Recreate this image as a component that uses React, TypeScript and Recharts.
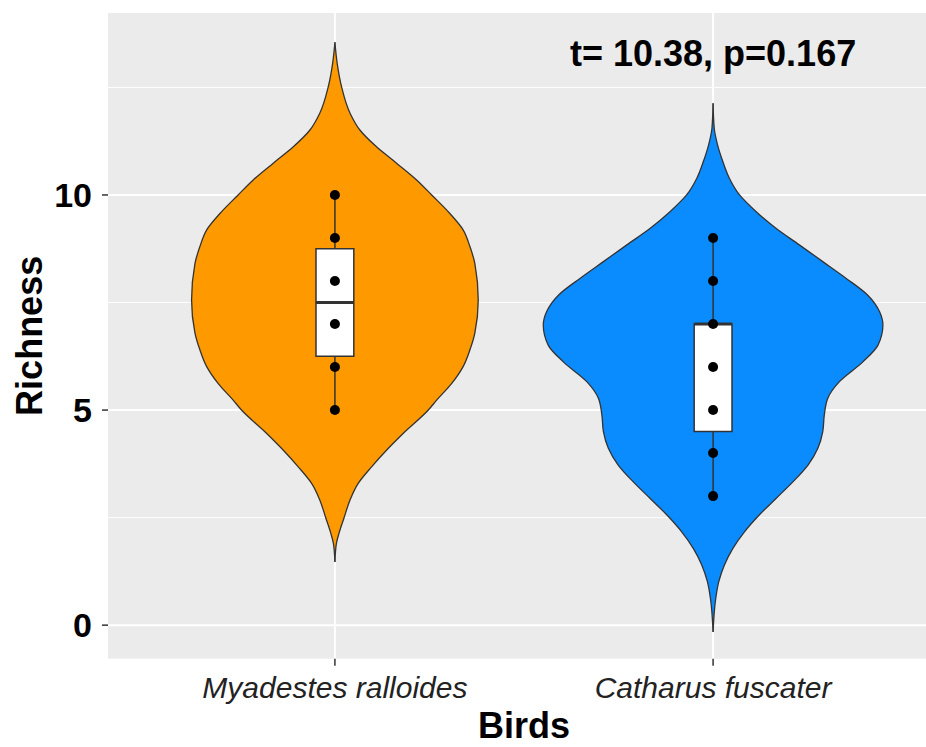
import {
  ComposedChart,
  Area,
  Scatter,
  XAxis,
  YAxis,
  CartesianGrid,
  ReferenceArea,
  ReferenceLine,
  ReferenceDot,
  Label,
} from "recharts";

const FONT = '"Liberation Sans", Arial, sans-serif';

const birds = ["Myadestes ralloides", "Catharus fuscater"];
const birdColors = ["#FF9900", "#0A8CFF"];

// violin outline: [richness, half width in category units]
const myadestesViolin = [
  [1.47, 0], [1.9, 0.004], [2.14, 0.011], [2.49, 0.024], [2.91, 0.04],
  [3.3, 0.062], [3.68, 0.097], [4.07, 0.137], [4.46, 0.181], [5.0, 0.247],
  [5.23, 0.269], [5.62, 0.309], [6.01, 0.339], [6.4, 0.357], [6.79, 0.37],
  [7.56, 0.379], [8.41, 0.37], [8.8, 0.357], [9.19, 0.339], [9.57, 0.304],
  [10.0, 0.256], [10.35, 0.216], [10.74, 0.163], [11.12, 0.11], [11.51, 0.066],
  [11.9, 0.04], [12.5, 0.018], [13.06, 0.006], [13.55, 0],
];

const catharusViolin = [
  [-0.16, 0], [0.62, 0.007], [1.01, 0.015], [1.4, 0.03], [1.78, 0.052],
  [2.17, 0.083], [2.56, 0.122], [2.95, 0.167], [3.33, 0.211], [3.72, 0.251],
  [4.11, 0.277], [4.5, 0.29], [4.88, 0.294], [5.27, 0.303], [5.66, 0.334],
  [6.12, 0.396], [6.51, 0.436], [6.98, 0.449], [7.29, 0.44], [7.67, 0.409],
  [8.06, 0.352], [8.45, 0.29], [8.84, 0.228], [9.22, 0.167], [9.61, 0.114],
  [10.0, 0.07], [10.39, 0.043], [10.77, 0.026], [11.16, 0.012], [11.55, 0.003],
  [12.13, 0],
];

const myadestesPoints = [5, 6, 7, 8, 9, 10];
const catharusPoints = [3, 4, 5, 6, 7, 8, 9];

// min, q1, median, q3, max
const myadestesBox = [5, 6.25, 7.5, 8.75, 10];
const catharusBox = [3, 4.5, 7, 7, 9];

const yTicks = [0, 5, 10];
const minorY = [2.5, 7.5, 12.5];
const xTicks = [1, 2];
const annotation = "t= 10.38, p=0.167";

const violins = [myadestesViolin, catharusViolin];
const points = [myadestesPoints, catharusPoints];
const boxes = [myadestesBox, catharusBox];

const violinData = violins.map((rows, i) =>
  rows.map(([y, w]) => ({ y, band: [i + 1 - w, i + 1 + w] }))
);
const pointData = points.map((vals, i) => vals.map((y) => ({ x: i + 1, y })));

const BOX_HALF = 0.05;

function YTick({ x, y, payload }: any) {
  return (
    <text x={x} y={y + 12} textAnchor="end" fontFamily={FONT} fontSize={34} fontWeight="bold" fill="#000">
      {payload.value}
    </text>
  );
}

function XTick({ x, y, payload }: any) {
  return (
    <text x={x} y={y + 32} textAnchor="middle" fontFamily={FONT} fontSize={30} fontStyle="italic" fill="#222">
      {birds[payload.value - 1]}
    </text>
  );
}

export default function App() {
  return (
    <div style={{ position: "absolute", left: 0, top: 0, width: 926, height: 747, overflow: "hidden", background: "#fff" }}>
      <ComposedChart
        width={940}
        height={747}
        layout="vertical"
        margin={{ top: 13, right: 0, bottom: 0, left: 0 }}
      >
        <CartesianGrid
          fill="#EBEBEB"
          stroke="#fff"
          strokeWidth={1}
          horizontalValues={minorY}
          vertical={false}
        />
        <CartesianGrid
          stroke="#fff"
          strokeWidth={2}
          horizontalValues={yTicks}
          verticalValues={xTicks}
        />
        <XAxis
          type="number"
          dataKey="x"
          domain={[0.4, 2.6]}
          allowDataOverflow
          ticks={xTicks}
          height={88.3}
          axisLine={false}
          tickSize={7}
          tickMargin={0}
          tickLine={{ stroke: "#333", strokeWidth: 1.5 }}
          tick={<XTick />}
        >
          <Label
            content={({ viewBox }: any) => (
              <text
                x={viewBox.x + viewBox.width / 2}
                y={738}
                textAnchor="middle"
                fontFamily={FONT}
                fontSize={36}
                fontWeight="bold"
                fill="#000"
              >
                Birds
              </text>
            )}
          />
        </XAxis>
        <YAxis
          type="number"
          dataKey="y"
          domain={[-0.78, 14.23]}
          allowDataOverflow
          reversed
          ticks={yTicks}
          width={108}
          axisLine={false}
          tickSize={6}
          tickMargin={10}
          tickLine={{ stroke: "#333", strokeWidth: 1.5 }}
          tick={<YTick />}
        >
          <Label
            content={({ viewBox }: any) => {
              const cy = viewBox.y + viewBox.height / 2;
              return (
                <text
                  x={42}
                  y={cy}
                  transform={`rotate(-90 42 ${cy})`}
                  textAnchor="middle"
                  fontFamily={FONT}
                  fontSize={36}
                  fontWeight="bold"
                  fill="#000"
                >
                  Richness
                </text>
              );
            }}
          />
        </YAxis>

        {violinData.map((d, i) => (
          <Area
            key={"v" + i}
            data={d}
            dataKey="band"
            type="monotone"
            fill={birdColors[i]}
            fillOpacity={1}
            stroke="#333"
            strokeWidth={1.3}
            isAnimationActive={false}
          />
        ))}

        {boxes.map((b, i) => [
          <ReferenceLine
            key={"wl" + i}
            segment={[{ x: i + 1, y: b[0] }, { x: i + 1, y: b[1] }]}
            stroke="#333"
            strokeWidth={1.5}
          />,
          <ReferenceLine
            key={"wh" + i}
            segment={[{ x: i + 1, y: b[3] }, { x: i + 1, y: b[4] }]}
            stroke="#333"
            strokeWidth={1.5}
          />,
          <ReferenceArea
            key={"b" + i}
            x1={i + 1 - BOX_HALF}
            x2={i + 1 + BOX_HALF}
            y1={b[1]}
            y2={b[3]}
            fill="#fff"
            fillOpacity={1}
            stroke="#333"
            strokeWidth={1.5}
          />,
          <ReferenceLine
            key={"m" + i}
            segment={[{ x: i + 1 - BOX_HALF, y: b[2] }, { x: i + 1 + BOX_HALF, y: b[2] }]}
            stroke="#333"
            strokeWidth={3}
          />,
        ])}

        {pointData.map((d, i) => (
          <Scatter
            key={"p" + i}
            data={d}
            isAnimationActive={false}
            shape={(p: any) => <circle cx={p.cx} cy={p.cy} r={5} fill="#000" />}
          />
        ))}

        <ReferenceDot
          x={2}
          y={13}
          r={0}
          fill="none"
          stroke="none"
          label={
            <Label
              content={({ viewBox }: any) => (
                <text
                  x={viewBox.x + (viewBox.width || 0) / 2}
                  y={viewBox.y + (viewBox.height || 0) / 2}
                  textAnchor="middle"
                  fontFamily={FONT}
                  fontSize={36}
                  fontWeight="bold"
                  fill="#000"
                >
                  {annotation}
                </text>
              )}
            />
          }
        />
      </ComposedChart>
    </div>
  );
}
